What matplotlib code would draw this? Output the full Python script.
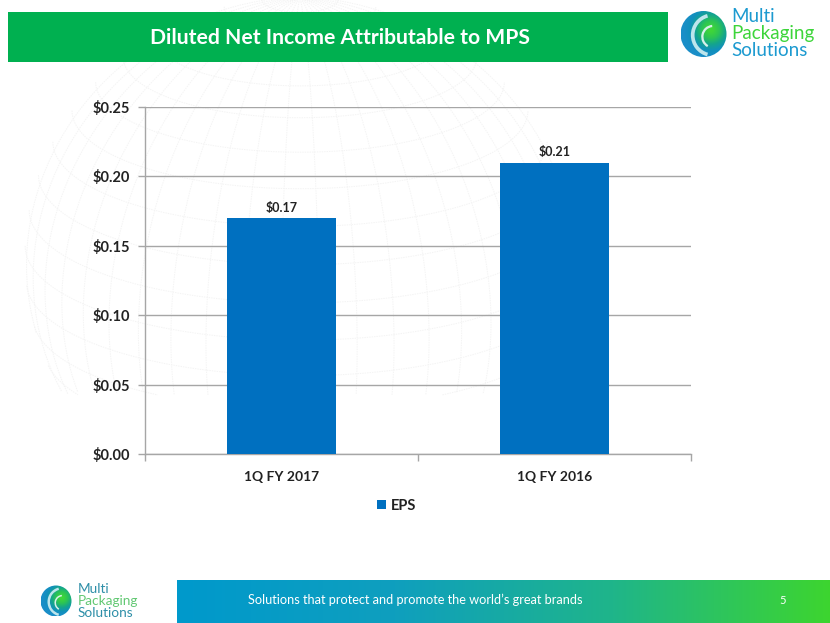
import matplotlib
matplotlib.use("Agg")
import matplotlib.pyplot as plt
import numpy as np
from matplotlib.colors import LinearSegmentedColormap
from matplotlib.patches import Circle, Rectangle, Wedge

categories = ["1Q FY 2017", "1Q FY 2016"]
eps = [0.17, 0.21]
value_labels = ["$0.17", "$0.21"]
yticks = [0.00, 0.05, 0.10, 0.15, 0.20, 0.25]
series_name = "EPS"

W, H = 830, 623
plt.rcParams['font.family'] = ['Lato', 'DejaVu Sans']

fig = plt.figure(figsize=(W / 100, H / 100), dpi=100, facecolor="white")

# page furniture, drawn in pixel coordinates
bg = fig.add_axes([0, 0, 1, 1])
bg.axis("off")


def globe(cx, cy, r, tilt, bottom):
    # faint graticule behind the chart, fades out above the axis
    def draw(lat, lon):
        px = np.cos(lat) * np.sin(lon)
        py = np.sin(lat) * np.cos(tilt) - np.cos(lat) * np.cos(lon) * np.sin(tilt)
        vis = np.sin(lat) * np.sin(tilt) + np.cos(lat) * np.cos(lon) * np.cos(tilt)
        sx = cx + r * px
        sy = cy - r * py
        keep = (vis > 0) & (sy < bottom)
        bg.plot(np.where(keep, sx, np.nan), np.where(keep, sy, np.nan), color="#f4f4f4", lw=0.7,
                ls=(0, (1.5, 1)), zorder=0)

    s = np.linspace(-np.pi / 2, np.pi / 2, 160)
    for lon in np.radians(np.arange(-84, 85, 8)):
        draw(s, np.full_like(s, lon))
    for lat in np.radians(np.arange(-30, 85, 8)):
        draw(np.full_like(s, lat), s)


globe(300, 255, 275, 0.35, 395)

bg.add_patch(Rectangle((8, 12), 660, 50, fc="#00B050", ec="none", zorder=1))
bg.text(339.5, 38, "Diluted Net Income Attributable to MPS", color="white", fontsize=15.2,
        fontweight="bold", ha="center", va="center", zorder=2)

footer = LinearSegmentedColormap.from_list("footer", ["#0099CC", "#0F9FBE", "#1FB58A", "#3DD52F"])
bg.imshow(np.linspace(0, 1, 256).reshape(1, -1), cmap=footer, extent=(177, 830, 623, 580), aspect="auto", zorder=1)
bg.text(415, 600, "Solutions that protect and promote the world\u2019s great brands", color="white",
        fontsize=9.2, ha="center", va="center", zorder=2)
bg.text(783, 601, "5", color="white", fontsize=8, ha="center", va="center", zorder=2)

ball = LinearSegmentedColormap.from_list("ball", ["#3FD53A", "#2CC455", "#14A58C", "#1190BC", "#1A8EC8"])


def logo(x, y, r, size, gap, tx, blue, green):
    yy, xx = np.mgrid[-1:1:120j, -1:1:120j]
    d = np.hypot(xx - 0.3, yy + 0.2)
    im = bg.imshow(d, cmap=ball, vmin=0.1, vmax=1.2, extent=(x - r, x + r, y + r, y - r), aspect="auto", zorder=3)
    im.set_clip_path(Circle((x, y), r, transform=bg.transData))
    arc = Wedge((x + r * 0.4, y + r * 0.05), r * 0.95, 105, 255, width=r * 0.16, fc="#BDE5EC", ec="none", zorder=4)
    bg.add_patch(arc)
    arc.set_clip_path(Circle((x, y), r, transform=bg.transData))
    bg.add_patch(Wedge((x + r * 0.42, y + r * 0.12), r * 0.52, 120, 265, width=r * 0.1, fc="#D5F0EA", ec="none", zorder=4))
    for i, (word, col) in enumerate([("Multi", blue), ("Packaging", green), ("Solutions", blue)]):
        bg.text(tx, y + (i - 1) * gap, word, color=col, fontsize=size, ha="left", va="center", zorder=5)


logo(703.5, 34, 23, 13.5, 17, 731, "#1C9AD0", "#3DD53A")
logo(56, 601, 15.5, 9.8, 12.2, 78, "#2E8FA8", "#62C873")

bg.set_xlim(0, W)
bg.set_ylim(H, 0)

# chart
ax = fig.add_axes([145 / W, 1 - 454 / H, (691 - 145) / W, (454 - 107) / H])
ax.patch.set_alpha(0)
x = np.arange(len(categories))
bars = ax.bar(x, eps, width=0.4, color="#0070C0", label=series_name, zorder=3)
ax.set_xlim(-0.5, 1.5)
ax.set_ylim(0, 0.25)
ax.set_yticks(yticks)
ax.set_yticklabels([f"${v:.2f}" for v in yticks], fontsize=10.5, fontweight="bold", color="#222222")
ax.set_xticks(x)
ax.set_xticklabels(categories, fontsize=10, fontweight="bold", color="#222222")
ax.set_xticks([-0.5, 0.5, 1.5], minor=True)
ax.tick_params(axis="x", which="major", length=0, pad=12)
ax.tick_params(axis="x", which="minor", length=5, color="#A6A6A6", width=1)
ax.tick_params(axis="y", length=5, color="#A6A6A6", width=1, pad=6)
ax.grid(axis="y", color="#A6A6A6", lw=1, zorder=1)
ax.set_axisbelow(True)
for s in ["top", "right"]:
    ax.spines[s].set_visible(False)
for s in ["left", "bottom"]:
    ax.spines[s].set_color("#A6A6A6")
    ax.spines[s].set_linewidth(1)
ax.bar_label(bars, labels=value_labels, padding=3, fontsize=9, fontweight="bold", color="#222222")

fig.legend(loc="center", bbox_to_anchor=(397 / W, 1 - 506 / H), frameon=False, ncol=1, handlelength=0.6,
           handleheight=0.6, handletextpad=0.35, prop={"size": 10.5, "weight": "bold"}, labelcolor="#222222")

fig.savefig("out.png", dpi=100)
